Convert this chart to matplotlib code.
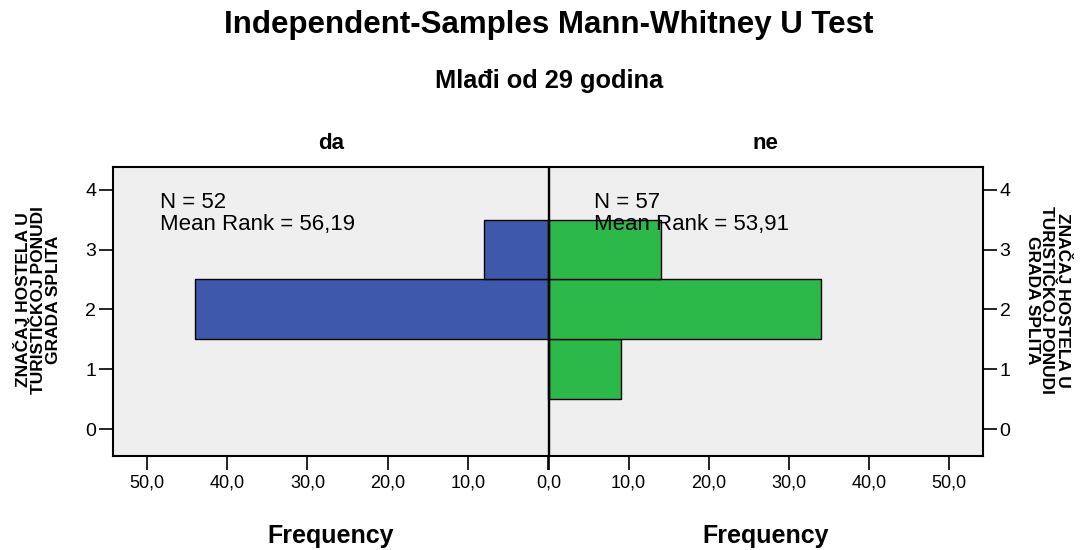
import matplotlib
matplotlib.use("Agg")
import matplotlib.pyplot as plt

plt.rcParams['font.family'] = ['Liberation Sans', 'DejaVu Sans']

# Data
values = [1, 2, 3]
freq_da = [0, 44, 8]
freq_ne = [9, 34, 14]
groups = ["da", "ne"]
n_labels = ["N = 52\nMean Rank = 56,19", "N = 57\nMean Rank = 53,91"]
title = "Independent-Samples Mann-Whitney U Test"
subtitle = "Mlađi od 29 godina"
ylabel = "ZNAČAJ HOSTELA U\nTURISTIČKOJ PONUDI\nGRADA SPLITA"
xlabel = "Frequency"
xticks = [0, 10, 20, 30, 40, 50]
yticks = [0, 1, 2, 3, 4]

blue = "#3E58AC"
green = "#2DB84A"
bg = "#EFEFEF"

W, H = 1083, 550
fig = plt.figure(figsize=(W / 100, H / 100), dpi=100)
x0, xm, x1 = 113, 548.5, 983
ytop, ybot = 167, 456
axL = fig.add_axes([x0 / W, (H - ybot) / H, (xm - x0) / W, (ybot - ytop) / H])
axR = fig.add_axes([xm / W, (H - ybot) / H, (x1 - xm) / W, (ybot - ytop) / H])

for ax, freqs, color in [(axL, freq_da, blue), (axR, freq_ne, green)]:
    ax.set_facecolor(bg)
    ax.barh(values, freqs, height=1.0, color=color, edgecolor="black", linewidth=1.0, zorder=2)
    ax.set_xlim(0, 54.2)
    ax.set_ylim(-0.45, 4.38)
    ax.set_xticks(xticks)
    ax.set_yticks(yticks)
    ax.tick_params(axis='x', length=10, width=1.2, pad=3)
    ax.tick_params(axis='y', length=10, width=1.2, labelsize=14, pad=2)
    for s in ax.spines.values():
        s.set_linewidth(1.5)

tick_text = [f"{t:.1f}".replace(".", ",") for t in xticks]
axL.set_xticklabels([""] + tick_text[1:], fontsize=13)
axR.set_xticklabels(tick_text, fontsize=13)

axL.invert_xaxis()
axR.yaxis.tick_right()
axL.spines['right'].set_linewidth(1.0)
axR.spines['left'].set_linewidth(1.0)

axL.text(48.4, 3.33, n_labels[0], fontsize=16, va='baseline', ha='left', linespacing=1.05)
axR.text(5.7, 3.33, n_labels[1], fontsize=16, va='baseline', ha='left', linespacing=1.05)

fig.text(39 / W, 1 - 300 / H, ylabel, fontsize=12.5, fontweight='bold', rotation=90,
         ha='center', va='center', multialignment='center', linespacing=1.0)
fig.text(1047 / W, 1 - 300 / H, ylabel, fontsize=12.5, fontweight='bold', rotation=270,
         ha='center', va='center', multialignment='center', linespacing=1.0)

for cx, g in zip([(x0 + xm) / 2, (xm + x1) / 2], groups):
    fig.text(cx / W, 1 - 149 / H, g, fontsize=16, fontweight='bold', ha='center', va='baseline')
    fig.text(cx / W, 1 - 543 / H, xlabel, fontsize=18, fontweight='bold', ha='center', va='baseline')

fig.text(549 / W, 1 - 33 / H, title, fontsize=22.5, fontweight='bold', ha='center', va='baseline')
fig.text(549 / W, 1 - 88 / H, subtitle, fontsize=18.3, fontweight='bold', ha='center', va='baseline')

fig.savefig("out.png", dpi=100)
